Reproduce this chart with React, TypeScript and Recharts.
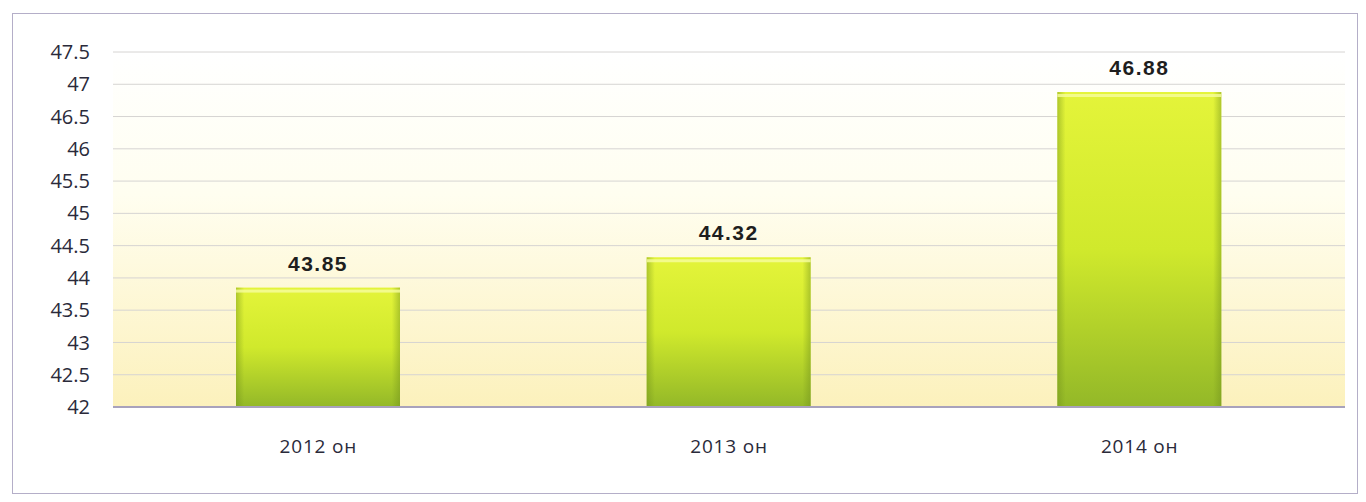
import React from "react";
import { BarChart, Bar, XAxis, YAxis, CartesianGrid, LabelList } from "recharts";

const categories = ["2012 он", "2013 он", "2014 он"];
const values = [43.85, 44.32, 46.88];
const yTicks = [42, 42.5, 43, 43.5, 44, 44.5, 45, 45.5, 46, 46.5, 47, 47.5];

const data = categories.map((c, i) => ({ name: c, value: values[i] }));

const BarShape = (props: any) => {
  const { x, y, width, height } = props;
  if (!height || height <= 0) return null;
  return (
    <g>
      <rect x={x} y={y} width={width} height={height} fill="url(#barV)" />
      <rect x={x} y={y} width={width} height={height} fill="url(#barH)" />
      <rect x={x} y={y + 2} width={width} height={3} fill="#f6fca0" opacity={0.8} />
    </g>
  );
};

export default function App() {
  return (
    <div style={{ position: "absolute", left: 0, top: 0, width: 1366, height: 502, background: "#ffffff" }}>
      <div
        style={{
          position: "absolute",
          left: 12,
          top: 13,
          width: 1346,
          height: 481,
          border: "1px solid #b4aec8",
          boxSizing: "border-box",
        }}
      />
      <div style={{ position: "absolute", left: 0, top: 0 }}>
        <BarChart
          width={1366}
          height={502}
          data={data}
          margin={{ top: 52, right: 21, bottom: 55, left: 13 }}
          barCategoryGap="30%"
        >
          <defs>
            <linearGradient id="bg" x1="0" y1="0" x2="0" y2="1">
              <stop offset="0%" stopColor="#ffffff" />
              <stop offset="40%" stopColor="#fffef0" />
              <stop offset="100%" stopColor="#fcf1bc" />
            </linearGradient>
            <linearGradient id="barV" x1="0" y1="0" x2="0" y2="1">
              <stop offset="0%" stopColor="#e4f43a" />
              <stop offset="50%" stopColor="#d0e92c" />
              <stop offset="100%" stopColor="#93b828" />
            </linearGradient>
            <linearGradient id="barH" x1="0" y1="0" x2="1" y2="0">
              <stop offset="0%" stopColor="#6f8f1c" stopOpacity={0.45} />
              <stop offset="5%" stopColor="#6f8f1c" stopOpacity={0} />
              <stop offset="95%" stopColor="#6f8f1c" stopOpacity={0} />
              <stop offset="100%" stopColor="#6f8f1c" stopOpacity={0.45} />
            </linearGradient>
          </defs>
          <CartesianGrid
            vertical={false}
            stroke="#d6d4d2"
            fill="url(#bg)"
            fillOpacity={1}
          />
          <XAxis
            dataKey="name"
            axisLine={{ stroke: "#a8a2bc", strokeWidth: 2 }}
            tickLine={false}
            tickSize={0}
            tickMargin={33}
            height={40}
            tick={{ fill: "#2a2a3a", fontSize: 19, letterSpacing: 0.8, fontFamily: "Open Sans, DejaVu Sans, sans-serif" }}
          />
          <YAxis
            domain={[42, 47.5]}
            ticks={yTicks}
            width={100}
            axisLine={false}
            tickLine={false}
            tickSize={0}
            tickMargin={23}
            interval={0}
            tick={{ fill: "#2a2a3a", fontSize: 20, fontFamily: "Open Sans, DejaVu Sans, sans-serif" }}
          />
          <Bar dataKey="value" barSize={164} shape={<BarShape />} isAnimationActive={false}>
            <LabelList
              dataKey="value"
              position="top"
              offset={17}
              formatter={(v: any) => Number(v).toFixed(2)}
              style={{ fill: "#1e1e1e", fontSize: 21, fontWeight: 700, letterSpacing: 1.5, fontFamily: "Liberation Sans, Arial, sans-serif" }}
            />
          </Bar>
        </BarChart>
      </div>
    </div>
  );
}
